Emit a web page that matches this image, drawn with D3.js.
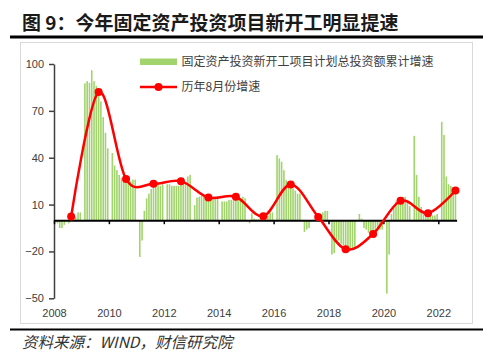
<!DOCTYPE html>
<html>
<head>
<meta charset="utf-8">
<script src="https://cdn.jsdelivr.net/npm/d3@7"></script>
<style>
  html, body { margin: 0; padding: 0; background: #fff; }
  svg { display: block; }
</style>
</head>
<body>
<svg id="chart" width="500" height="359"></svg>
<script>
// ---- data ----
const titleText = "图 9：今年固定资产投资项目新开工明显提速";
const sourceText = "资料来源：WIND，财信研究院";
const barLabel = "固定资产投资新开工项目计划总投资额累计增速";
const lineLabel = "历年8月份增速";

const barYears = [2008, 2009, 2010, 2011, 2012, 2013, 2014, 2015, 2016, 2017, 2018, 2019, 2020, 2021, 2022];
// monthly cumulative growth, Jan..Dec (Jan not published)
const barValues = [
  [null, -2, -5, -5, -3, -1, -2, 2.4, 1, 2, 5, 5],
  [null, 87.6, 89, 88, 96, 89, 86, 82, 76, 66, 56, 46],
  [null, 43, 35, 32, 29, 27, 27, 26.3, 26, 25, 26, 26],
  [null, -23.5, -13, 6, 14, 17, 20, 23.3, 22, 23, 22, 23],
  [null, 23, 23, 22, 22, 22, 22, 25, 24, 24, 28, 29],
  [null, 9.6, 14.5, 15, 15.5, 16, 15, 14.5, 14, 15, 15, 15],
  [null, 12, 12, 12, 13, 13, 13, 15, 14, 14, 15, 14],
  [null, -2, 4.5, 1, 0.5, 0.5, 1, 2.6, 2, 3, 5, 5],
  [null, 41.7, 39.5, 37.4, 32, 25.6, 24, 22.9, 20.3, 19, 17, 17],
  [null, -7.5, -6, -5, -1, 0.5, 1, 2.1, 3, 5, 6, 6],
  [null, -22, -21, -14, -13, -15, -16, -18.6, -19, -19, -18, -17],
  [null, 4, 1, -5, -6, -8, -9, -8.8, -8, -7, -6, -6],
  [null, -47, -22, 4, 8, 12, 14, 12.4, 15, 15, 13, 9],
  [null, 54, 29, 15, 8.5, 5.5, 5, 4.5, 4, 3, 3, 4],
  [null, 63, 54.5, 28, 23, 22, 21, 19]
];

const augYears = [2008, 2009, 2010, 2011, 2012, 2013, 2014, 2015, 2016, 2017, 2018, 2019, 2020, 2021, 2022];
const augValues = [2.4, 82, 26.3, 23.3, 25, 14.5, 15, 2.6, 22.9, 2.1, -18.6, -8.8, 12.4, 4.5, 19];

const xTickYears = [2008, 2010, 2012, 2014, 2016, 2018, 2020, 2022];
const yTicks = [100, 70, 40, 10, -20, -50];

// ---- build ----
const svg = d3.select("#chart");
const green = "#a2d36e";
const red = "#ff0000";

// month index scale (uniform months)
const totalMonths = 176;
const x = d3.scaleLinear().domain([0, totalMonths]).range([54, 456.6]);
const y = d3.scaleLinear().domain([-50, 100]).range([298.3, 64]);

const monthIdx = (yr, m) => (yr - 2008) * 12 + m; // m: 0-based month

// title
svg.append("text")
  .attr("x", 22).attr("y", 30)
  .attr("font-family", "'Noto Sans CJK SC', sans-serif")
  .attr("font-weight", 700)
  .attr("font-size", 19)
  .attr("fill", "#1a1a1a")
  .text(titleText);

svg.append("rect").attr("x", 10).attr("y", 35.5).attr("width", 473).attr("height", 3).attr("fill", "#000");

// chart frame
svg.append("rect").attr("x", 20.5).attr("y", 42.5).attr("width", 452).attr("height", 281)
  .attr("fill", "#fff").attr("stroke", "#d9d9d9").attr("stroke-width", 1);

svg.append("rect").attr("x", 10).attr("y", 328.5).attr("width", 473).attr("height", 2).attr("fill", "#000");

svg.append("text")
  .attr("x", 22).attr("y", 348)
  .attr("font-family", "'Noto Sans CJK SC', sans-serif")
  .attr("font-style", "italic")
  .attr("font-size", 15.5)
  .attr("fill", "#333")
  .text(sourceText);

// bars
const bars = [];
barYears.forEach((yr, yi) => {
  barValues[yi].forEach((v, m) => {
    if (v !== null && v !== undefined) bars.push({ i: monthIdx(yr, m), v });
  });
});
const bw = 1.6;
svg.append("g").selectAll("rect").data(bars).join("rect")
  .attr("x", d => x(d.i + 0.5) - bw / 2)
  .attr("width", bw)
  .attr("y", d => y(Math.max(0, d.v)))
  .attr("height", d => Math.abs(y(d.v) - y(0)))
  .attr("fill", green);

// y axis
const yAxis = svg.append("g")
  .attr("transform", `translate(${x(0)},0)`)
  .call(d3.axisLeft(y).tickValues(yTicks).tickSize(5).tickSizeOuter(0).tickPadding(5));
yAxis.select(".domain").attr("stroke", "#404040").attr("stroke-width", 1.5);
yAxis.selectAll(".tick line").attr("stroke", "#404040").attr("stroke-width", 1.5);
yAxis.selectAll("text").attr("font-family", "'Liberation Sans', Arial, sans-serif")
  .attr("font-size", 11).attr("fill", "#404040");

// x axis at zero
const xAxis = svg.append("g")
  .attr("transform", `translate(0,${y(0)})`)
  .call(d3.axisBottom(x).tickValues(xTickYears.map(yr => monthIdx(yr, 0))).tickSize(4).tickSizeOuter(0).tickFormat(""));
xAxis.select(".domain").attr("stroke", "#000").attr("stroke-width", 2);
xAxis.selectAll(".tick line").attr("stroke", "#000").attr("stroke-width", 1.5);

// x labels at bottom
const xLab = svg.append("g")
  .attr("transform", `translate(0,306)`)
  .call(d3.axisBottom(x).tickValues(xTickYears.map(yr => monthIdx(yr, 0))).tickSize(0).tickPadding(3)
    .tickFormat(i => String(2008 + Math.round(i / 12))));
xLab.select(".domain").remove();
xLab.selectAll("text").attr("font-family", "'Liberation Sans', Arial, sans-serif")
  .attr("font-size", 11).attr("fill", "#404040");

// August line
const pts = augYears.map((yr, k) => ({ i: monthIdx(yr, 7) + 0.5, v: augValues[k] }));
const line = d3.line().x(d => x(d.i)).y(d => y(d.v)).curve(d3.curveCatmullRom.alpha(0));
svg.append("path").datum(pts).attr("d", line)
  .attr("fill", "none").attr("stroke", red).attr("stroke-width", 2.5);
svg.append("g").selectAll("circle").data(pts).join("circle")
  .attr("cx", d => x(d.i)).attr("cy", d => y(d.v)).attr("r", 4).attr("fill", red);

// legend
const lg = svg.append("g");
lg.append("rect").attr("x", 140).attr("y", 58.5).attr("width", 37).attr("height", 6.5).attr("fill", green);
lg.append("text").attr("x", 181.5).attr("y", 62).attr("dy", "0.35em")
  .attr("font-family", "'Noto Sans CJK SC', sans-serif").attr("font-size", 12).attr("fill", "#404040")
  .text(barLabel);
lg.append("line").attr("x1", 140).attr("x2", 177).attr("y1", 87).attr("y2", 87)
  .attr("stroke", red).attr("stroke-width", 2.5);
lg.append("circle").attr("cx", 158.5).attr("cy", 87).attr("r", 4).attr("fill", red);
lg.append("text").attr("x", 181.5).attr("y", 87).attr("dy", "0.35em")
  .attr("font-family", "'Noto Sans CJK SC', sans-serif").attr("font-size", 12).attr("fill", "#404040")
  .text(lineLabel);
</script>
</body>
</html>
